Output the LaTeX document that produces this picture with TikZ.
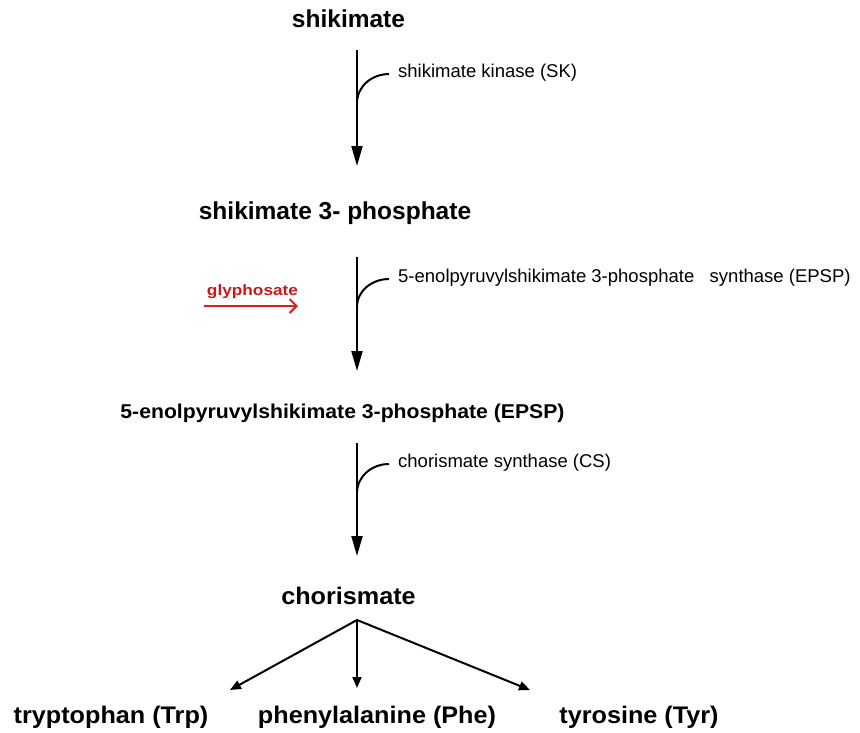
\documentclass[tikz,border=0pt]{standalone}
\usepackage{fontspec}
\setmainfont{Liberation Sans}
\usepackage{graphicx}
\usetikzlibrary{arrows.meta}
\definecolor{gred}{RGB}{218,30,30}
\definecolor{gtext}{RGB}{200,25,25}
\begin{document}
\begin{tikzpicture}[x=1pt,y=-1pt,
  title/.style={anchor=base, inner sep=0pt, font=\bfseries\fontsize{24.5}{28}\selectfont},
  midtitle/.style={anchor=base, inner sep=0pt, font=\bfseries\fontsize{20}{24}\selectfont},
  lowtitle/.style={anchor=base, inner sep=0pt, font=\bfseries\fontsize{24}{28}\selectfont},
  enz/.style={anchor=base west, inner sep=0pt, font=\fontsize{18.5}{22}\selectfont},
  glytext/.style={anchor=base, inner sep=0pt, text=gtext, font=\bfseries\fontsize{15}{18}\selectfont},
  rxn/.style={line width=2pt, -{Triangle[length=20pt,width=11pt]}},
  hookline/.style={line width=2pt},
  branch/.style={line width=2pt, -{Triangle[length=11pt,width=9pt]}},
  inhib/.style={line width=2pt, draw=gred, -{Straight Barb[length=7pt,width=14pt,line width=2pt]}}]
\useasboundingbox (0,0) rectangle (860,732);

% compounds
\node[title] (shik) at (348.5,27) {shikimate};
\node[title] (s3p) at (335,219) {shikimate 3- phosphate};
\node[midtitle] (epsp) at (342.5,418) {\scalebox{1.06}[1]{5-enolpyruvylshikimate 3-phosphate (EPSP)}};
\node[lowtitle] (chor) at (348.5,604) {\scalebox{1.05}[1]{chorismate}};
\node[lowtitle] (trp) at (111,723) {\scalebox{1.05}[1]{tryptophan (Trp)}};
\node[lowtitle] (phe) at (377,723) {\scalebox{1.05}[1]{phenylalanine (Phe)}};
\node[lowtitle] (tyr) at (639,723) {\scalebox{1.05}[1]{tyrosine (Tyr)}};

% enzymes
\node[enz] (sk) at (398,77) {shikimate kinase (SK)};
\node[enz] (epsps) at (398,282) {5-enolpyruvylshikimate 3-phosphate\ \ \ synthase (EPSP)};
\node[enz] (cs) at (398,467) {chorismate synthase\ (CS)};

% glyphosate
\node[glytext] (gly) at (252.5,295) {\scalebox{1.15}[1]{glyphosate}};

% arrow end points
\coordinate (a1s) at (357,50);  \coordinate (a1e) at (357,166);
\coordinate (a2s) at (357,257); \coordinate (a2e) at (357,371);
\coordinate (a3s) at (357,443); \coordinate (a3e) at (357,556);
\coordinate (h1) at (357,103);  \coordinate (h1e) at (389,74);
\coordinate (h2) at (357,307);  \coordinate (h2e) at (389,279);
\coordinate (h3) at (357,493);  \coordinate (h3e) at (389,464);
\coordinate (g1) at (204,306);  \coordinate (g2) at (298,306);
\coordinate (apex) at (357,620);
\coordinate (tTrp) at (230,690);
\coordinate (tPhe) at (357,688);
\coordinate (tTyr) at (530,690);

% reaction arrows
\draw[rxn] (a1s) -- (a1e);
\draw[rxn] (a2s) -- (a2e);
\draw[rxn] (a3s) -- (a3e);

% enzyme hooks
\draw[hookline] (h1) to[out=90,in=180] (h1e);
\draw[hookline] (h2) to[out=90,in=180] (h2e);
\draw[hookline] (h3) to[out=90,in=180] (h3e);

% glyphosate inhibition arrow
\draw[inhib] (g1) -- (g2);

% branches
\draw[branch] (apex) -- (tTrp);
\draw[branch] (apex) -- (tPhe);
\draw[branch] (apex) -- (tTyr);
\end{tikzpicture}
\end{document}
